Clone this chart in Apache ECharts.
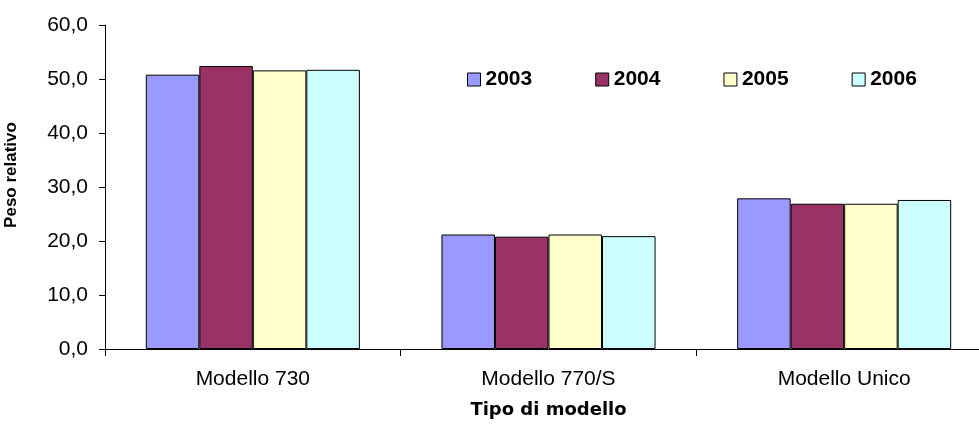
<!DOCTYPE html>
<html>
<head>
<meta charset="utf-8">
<script src="https://cdn.jsdelivr.net/npm/echarts@6/dist/echarts.min.js"></script>
<style>
  html, body { margin: 0; padding: 0; background: #fff; }
  #chart { width: 979px; height: 432px; }
</style>
</head>
<body>
<div id="chart"></div>
<script>
// Peso relativo per tipo di modello dichiarativo, 2003-2006
const categories = ['Modello 730', 'Modello 770/S', 'Modello Unico'];
const years = ['2003', '2004', '2005', '2006'];
const values2003 = [50.8, 21.2, 27.9];
const values2004 = [52.4, 20.8, 26.9];
const values2005 = [51.6, 21.2, 26.9];
const values2006 = [51.7, 20.9, 27.6];
const yTicks = { min: 0, max: 60, interval: 10 };

const seriesValues = [values2003, values2004, values2005, values2006];
const colors = ['#9999FF', '#993366', '#FFFFCC', '#CCFFFF'];
const font = 'Liberation Sans, Arial, sans-serif';

const chart = echarts.init(document.getElementById('chart'), null, { renderer: 'canvas' });

chart.setOption({
  animation: false,
  backgroundColor: '#ffffff',
  grid: { left: 105, top: 25, bottom: 83, width: 887, containLabel: false, outerBoundsMode: 'none' },
  legend: {
    data: years,
    left: 462,
    top: 64,
    orient: 'horizontal',
    icon: 'rect',
    itemWidth: 13,
    itemHeight: 13,
    itemGap: 63,
    itemStyle: { borderColor: '#000', borderWidth: 1 },
    textStyle: { fontFamily: font, fontSize: 21, fontWeight: 'bold', color: '#000' }
  },
  xAxis: {
    type: 'category',
    data: categories,
    name: 'Tipo di modello',
    nameLocation: 'middle',
    nameGap: 52,
    nameTextStyle: { fontFamily: 'DejaVu Sans, sans-serif', fontSize: 18, fontWeight: 'bold', color: '#000' },
    axisLine: { lineStyle: { color: '#000', width: 1 } },
    axisTick: { show: true, length: 7, lineStyle: { color: '#000' } },
    axisLabel: { fontFamily: font, fontSize: 21, color: '#000', margin: 20 },
    splitLine: { show: false }
  },
  yAxis: {
    type: 'value',
    min: yTicks.min,
    max: yTicks.max,
    interval: yTicks.interval,
    name: 'Peso relativo',
    nameLocation: 'middle',
    nameGap: 85,
    nameRotate: 90,
    nameTextStyle: { fontFamily: font, fontSize: 17, fontWeight: 'bold', color: '#000', padding: [0, 0, 0, 24] },
    axisLine: { show: true, lineStyle: { color: '#000', width: 1 } },
    axisTick: { show: true, length: 6, lineStyle: { color: '#000' } },
    axisLabel: {
      fontFamily: font, fontSize: 21, color: '#000', margin: 17,
      formatter: v => v.toFixed(1).replace('.', ',')
    },
    splitLine: { show: false }
  },
  series: years.map((y, i) => ({
    name: y,
    type: 'bar',
    data: seriesValues[i],
    barGap: '0%',
    barCategoryGap: '27.6%',
    itemStyle: { color: colors[i], borderColor: '#000', borderWidth: 1 }
  }))
});
</script>
</body>
</html>
